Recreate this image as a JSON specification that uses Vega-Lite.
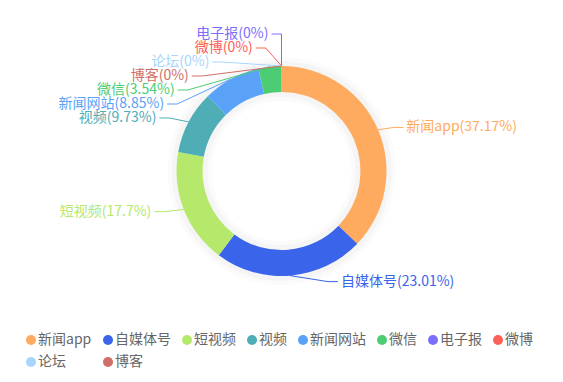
{
  "$schema": "https://vega.github.io/schema/vega-lite/v6.json",
  "width": 563,
  "height": 382,
  "autosize": {"type": "fit", "contains": "padding"},
  "padding": 0,
  "background": "white",
  "config": {"view": {"stroke": null}, "font": "Noto Sans CJK SC", "legend": {"gridAlign": "none"}},
  "data": {
    "values": [
      {"name": "新闻app", "value": 37.17, "order": 0},
      {"name": "自媒体号", "value": 23.01, "order": 1},
      {"name": "短视频", "value": 17.7, "order": 2},
      {"name": "视频", "value": 9.73, "order": 3},
      {"name": "新闻网站", "value": 8.85, "order": 4},
      {"name": "微信", "value": 3.54, "order": 5},
      {"name": "电子报", "value": 0, "order": 6},
      {"name": "微博", "value": 0, "order": 7},
      {"name": "论坛", "value": 0, "order": 8},
      {"name": "博客", "value": 0, "order": 9}
    ]
  },
  "layer": [
    {
      "mark": {"type": "arc", "innerRadius": 70, "outerRadius": 114, "color": "#000000", "opacity": 0.015},
      "encoding": {
        "theta": {"field": "value", "type": "quantitative", "stack": true},
        "order": {"field": "order", "type": "quantitative"},
        "x": {"datum": 0, "type": "quantitative", "scale": {"domain": [-281.5, 281.5], "nice": false, "zero": false}, "axis": null},
        "y": {"datum": 0, "type": "quantitative", "scale": {"domain": [-171, 211], "reverse": true, "nice": false, "zero": false}, "axis": null}
      }
    },
    {
      "mark": {"type": "arc", "innerRadius": 74, "outerRadius": 110, "color": "#000000", "opacity": 0.025},
      "encoding": {
        "theta": {"field": "value", "type": "quantitative", "stack": true},
        "order": {"field": "order", "type": "quantitative"},
        "x": {"datum": 0, "type": "quantitative"},
        "y": {"datum": 0, "type": "quantitative"}
      }
    },
    {
      "mark": {"type": "arc", "innerRadius": 79, "outerRadius": 105},
      "encoding": {
        "theta": {"field": "value", "type": "quantitative", "stack": true},
        "order": {"field": "order", "type": "quantitative"},
        "color": {
          "field": "name",
          "type": "nominal",
          "scale": {
            "domain": ["新闻app", "自媒体号", "短视频", "视频", "新闻网站", "微信", "电子报", "微博", "论坛", "博客"],
            "range": ["#ffab5f", "#3a64e9", "#b5e86b", "#4eadb5", "#5aa2f8", "#4ccd74", "#7b6efc", "#fc6058", "#a8d5fd", "#d06f68"]
          },
          "legend": {
            "orient": "none",
            "legendX": 24,
            "legendY": 333,
            "direction": "horizontal",
            "columns": 8,
            "gridAlign": "none",
            "title": null,
            "symbolType": "circle",
            "symbolSize": 100,
            "symbolStrokeWidth": 0,
            "symbolOpacity": 1,
            "labelFontSize": 14,
            "labelColor": "#666666",
            "labelFont": "Noto Sans CJK SC",
            "labelOffset": 0,
            "columnPadding": 9,
            "rowPadding": 8
          }
        },
        "x": {"datum": 0, "type": "quantitative"},
        "y": {"datum": 0, "type": "quantitative"}
      }
    },
    {
      "transform": [
        {"window": [{"op": "sum", "field": "value", "as": "cum"}], "sort": [{"field": "order"}], "frame": [null, 0]},
        {"calculate": "(datum.cum - datum.value/2)/100*2*PI", "as": "a"},
        {"calculate": "datum.a > PI ? 1 : 0", "as": "left"},
        {"calculate": "-111*cos(datum.a)", "as": "ny"},
        {"window": [{"op": "row_number", "as": "rk"}], "groupby": ["left"], "sort": [{"field": "ny"}, {"field": "order"}]},
        {"calculate": "-137 + 14*(datum.rk-1)", "as": "sy"},
        {"calculate": "datum.left && abs(datum.sy - datum.ny) < 40 ? datum.sy : datum.ny", "as": "ly"},
        {"calculate": "(datum.left ? -1 : 1)*sqrt(max(0, pow(datum.left ? 124 : 120, 2) - datum.ly*datum.ly))", "as": "ex"},
        {"calculate": "105*sin(datum.a)", "as": "px"},
        {"calculate": "-105*cos(datum.a)", "as": "py"},
        {"calculate": "datum.ex + (datum.left ? -10 : 10)", "as": "lx"},
        {"calculate": "datum.ex + (datum.left ? -13 : 13)", "as": "tx"},
        {"calculate": "datum.name + '(' + datum.value + '%)'", "as": "label"}
      ],
      "layer": [
        {
          "mark": {"type": "rule", "strokeWidth": 1},
          "encoding": {
            "x": {"field": "px", "type": "quantitative"},
            "y": {"field": "py", "type": "quantitative"},
            "x2": {"field": "ex"},
            "y2": {"field": "ly"},
            "color": {"field": "name", "type": "nominal", "legend": null}
          }
        },
        {
          "mark": {"type": "rule", "strokeWidth": 1},
          "encoding": {
            "x": {"field": "ex", "type": "quantitative"},
            "y": {"field": "ly", "type": "quantitative"},
            "x2": {"field": "lx"},
            "y2": {"field": "ly"},
            "color": {"field": "name", "type": "nominal", "legend": null}
          }
        },
        {
          "transform": [{"filter": "datum.left == 1"}],
          "mark": {"type": "text", "align": "right", "baseline": "middle", "fontSize": 14, "font": "Noto Sans CJK SC"},
          "encoding": {
            "x": {"field": "tx", "type": "quantitative"},
            "y": {"field": "ly", "type": "quantitative"},
            "text": {"field": "label"},
            "color": {"field": "name", "type": "nominal", "legend": null}
          }
        },
        {
          "transform": [{"filter": "datum.left == 0"}],
          "mark": {"type": "text", "align": "left", "baseline": "middle", "fontSize": 14, "font": "Noto Sans CJK SC"},
          "encoding": {
            "x": {"field": "tx", "type": "quantitative"},
            "y": {"field": "ly", "type": "quantitative"},
            "text": {"field": "label"},
            "color": {"field": "name", "type": "nominal", "legend": null}
          }
        }
      ]
    }
  ]
}
